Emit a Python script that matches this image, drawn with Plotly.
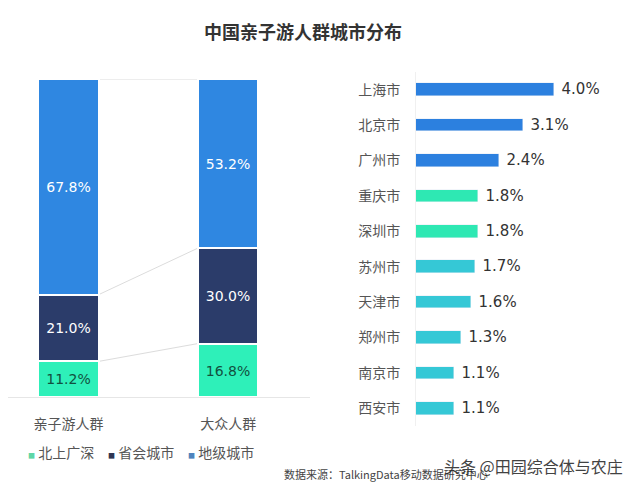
import numpy as np
import plotly.graph_objects as go

# left chart: city tier share of two groups
groups = ['亲子游人群', '大众人群']
tiers = ['北上广深', '省会城市', '地级城市']
tier_share = {
    '北上广深': [11.2, 16.8],
    '省会城市': [21.0, 30.0],
    '地级城市': [67.8, 53.2],
}

# right chart: top cities
cities = ['上海市', '北京市', '广州市', '重庆市', '深圳市', '苏州市', '天津市', '郑州市', '南京市', '西安市']
city_share = [4.0, 3.1, 2.4, 1.8, 1.8, 1.7, 1.6, 1.3, 1.1, 1.1]

TIER_COLORS = {'北上广深': '#2ef0b9', '省会城市': '#2b3c6a', '地级城市': '#2f87e1'}
TIER_TEXT = {'北上广深': '#12503f', '省会城市': 'white', '地级城市': 'white'}
LEGEND_COLORS = {'北上广深': '#5fd6a6', '省会城市': '#2f3653', '地级城市': '#4f84bd'}
CITY_COLORS = ['#2c80df'] * 3 + ['#2ee8b3'] * 2 + ['#35c8d6'] * 5

CJK = 'Noto Sans CJK SC'
NUM = 'DejaVu Sans'
# page body has an 8px margin, so the figure is a bit smaller than the window
OFF = 8
W, H = 640 - OFF, 492 - OFF
BAR_W = 0.38


def px(x):
    return (x - OFF) / W


def py(y):
    return 1 - (y - OFF) / H


fig = go.Figure()

for t in tiers:
    fig.add_trace(go.Bar(
        x=groups, y=tier_share[t], name=t, width=BAR_W,
        marker=dict(color=TIER_COLORS[t], line=dict(color='white', width=2)),
        text=[f'{v:.1f}%' for v in tier_share[t]],
        textposition='inside', insidetextanchor='middle', constraintext='none',
        textfont=dict(family=NUM, size=14, color=TIER_TEXT[t]),
        xaxis='x', yaxis='y', showlegend=False, hoverinfo='skip',
    ))

fig.add_trace(go.Bar(
    x=city_share, y=cities, orientation='h', width=0.36,
    marker=dict(color=CITY_COLORS),
    text=[f' {v:.1f}%' for v in city_share], textposition='outside',
    constraintext='none',
    textfont=dict(family=NUM, size=15, color='#333333'),
    cliponaxis=False, xaxis='x2', yaxis='y2', showlegend=False, hoverinfo='skip',
))

# connectors between the stacked bars
cum = np.cumsum([tier_share[t] for t in tiers], axis=0)
shapes = []
for row in cum:
    shapes.append(dict(type='line', xref='x', yref='y', layer='below',
                       x0=0 + BAR_W / 2, y0=row[0], x1=1 - BAR_W / 2, y1=row[1],
                       line=dict(color='#dcdcdc', width=1)))

# legend drawn as annotations
annotations = []
for i, t in enumerate(tiers):
    annotations.append(dict(
        xref='paper', yref='paper', x=px(26 + 80 * i), y=py(452),
        xanchor='left', yanchor='middle', showarrow=False,
        text=f'<span style="color:{LEGEND_COLORS[t]};font-size:7px">■</span> {t}',
        font=dict(family=CJK, size=14, color='#555555'),
    ))

annotations.append(dict(
    xref='paper', yref='paper', x=px(282), y=py(474),
    xanchor='left', yanchor='middle', showarrow=False,
    text='数据来源：TalkingData移动数据研究中心',
    font=dict(family=CJK, size=11, color='#444444'),
))
annotations.append(dict(
    xref='paper', yref='paper', x=px(442), y=py(466),
    xanchor='left', yanchor='middle', showarrow=False,
    text='头条 @田园综合体与农庄', opacity=0.85,
    font=dict(family=CJK, size=16, color='#222222'),
))

fig.update_layout(
    width=W, height=H,
    margin=dict(l=0, r=0, t=0, b=0),
    paper_bgcolor='white', plot_bgcolor='white',
    barmode='stack', bargap=0,
    title=dict(text='<b>中国亲子游人群城市分布</b>', x=px(303), xanchor='center',
               y=py(33), yanchor='middle',
               font=dict(family=CJK, size=18, color='#333333')),
    xaxis=dict(domain=[0, px(310)], range=[-(68.5 - OFF) / 160, 1 + 82 / 160],
               showline=True, linecolor='#e6e6e6', linewidth=1,
               showgrid=False, zeroline=False, ticks='', ticklabelstandoff=14,
               tickfont=dict(family=CJK, size=14, color='#555555')),
    yaxis=dict(domain=[py(397), py(79)], range=[0, 100], visible=False),
    xaxis2=dict(domain=[px(416), 1], range=[0, (640 - 416) / 34.6], visible=False),
    yaxis2=dict(domain=[py(426), py(72)], anchor='x2', autorange='reversed',
                showline=True, linecolor='#f0f0f0', linewidth=1, showgrid=False,
                ticks='', ticklabelstandoff=12,
                tickfont=dict(family=CJK, size=14, color='#555555')),
    shapes=shapes,
    annotations=annotations,
)

fig.write_html('out.html')
